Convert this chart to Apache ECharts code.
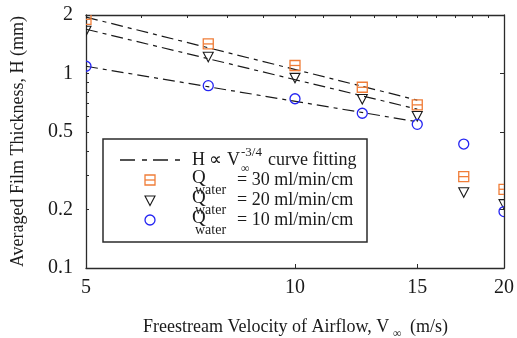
<!DOCTYPE html>
<html>
<head>
<meta charset="utf-8">
<script src="https://cdn.jsdelivr.net/npm/echarts@6/dist/echarts.min.js"></script>
<style>
  html, body { margin: 0; padding: 0; background: #fff; }
  #chart { width: 517px; height: 338px; }
</style>
</head>
<body>
<div id="chart"></div>
<script>
// Measured film thickness H (mm) against freestream velocity (m/s)
const velocity = [5, 7.5, 10, 12.5, 15, 17.5, 20];
const thickness30 = [1.90, 1.42, 1.10, 0.85, 0.69, 0.295, 0.254];
const thickness20 = [1.66, 1.22, 0.95, 0.74, 0.605, 0.245, 0.213];
const thickness10 = [1.09, 0.866, 0.742, 0.625, 0.548, 0.434, 0.195];

// Power-law fit lines (end points, straight on log-log axes)
const fitVelocity = [5, 15];
const fit30 = [1.95, 0.73];
const fit20 = [1.69, 0.656];
const fit10 = [1.09, 0.565];

// Axis ticks
const xTickLabels = [5, 10, 15, 20];
const xTopTicks = [5, 6, 7, 8, 9, 10, 11, 12, 13, 14, 15, 16, 17, 18, 19, 20];
const yTickLabels = [0.1, 0.2, 0.5, 1, 2];
const yLeftTicks = [0.1, 0.2, 0.3, 0.4, 0.5, 0.6, 0.7, 0.8, 0.9, 1, 2];

const ORANGE = '#F07D38';
const BLUE = '#2424F2';
const INK = '#1a1a1a';
const AXIS = '#2b2b2b';
const SERIF = '"Liberation Serif", "Times New Roman", serif';
const FIT_DASH = [12, 5, 4, 5];

function marker(kind, x, y) {
  if (kind === 'square') {
    return {
      type: 'group',
      children: [
        { type: 'rect', shape: { x: x - 5, y: y - 5, width: 10, height: 10 },
          style: { fill: 'none', stroke: ORANGE, lineWidth: 1.3 } },
        { type: 'line', shape: { x1: x - 5, y1: y, x2: x + 5, y2: y },
          style: { stroke: ORANGE, lineWidth: 1.3 } }
      ]
    };
  }
  if (kind === 'triangle') {
    return {
      type: 'polygon',
      shape: { points: [[x - 5, y - 4.5], [x + 5, y - 4.5], [x, y + 5]] },
      style: { fill: 'none', stroke: INK, lineWidth: 1.1 }
    };
  }
  return {
    type: 'circle',
    shape: { cx: x, cy: y, r: 5 },
    style: { fill: 'none', stroke: BLUE, lineWidth: 1.3 }
  };
}

function withZ(el, z) {
  el.z = z;
  if (el.children) el.children.forEach(c => withZ(c, z));
  return el;
}

function pointSeries(name, values, kind) {
  return {
    type: 'custom',
    name: name,
    clip: true,
    xAxisIndex: 0,
    yAxisIndex: 0,
    z: 3,
    data: velocity.map((v, i) => [v, values[i]]),
    encode: { x: 0, y: 1 },
    renderItem: function (params, api) {
      const p = api.coord([api.value(0), api.value(1)]);
      return marker(kind, p[0], p[1]);
    }
  };
}

function fitSeries(values) {
  return {
    type: 'line',
    xAxisIndex: 0,
    yAxisIndex: 0,
    data: fitVelocity.map((v, i) => [v, values[i]]),
    showSymbol: false,
    symbol: 'none',
    silent: true,
    z: 2,
    lineStyle: { color: INK, width: 1.2, type: FIT_DASH }
  };
}

function text(str, x, y, size, align, extra) {
  return Object.assign({
    type: 'text',
    x: x,
    y: y,
    style: {
      text: str,
      font: size + 'px ' + SERIF,
      fill: INK,
      align: align || 'left',
      verticalAlign: 'middle',
      textAlign: align || 'left',
      textVerticalAlign: 'middle'
    }
  }, extra || {});
}

const fmt = v => String(+(+v).toPrecision(6));

const legendRows = [
  { kind: 'square', label: '= 30 ml/min/cm', y: 180 },
  { kind: 'triangle', label: '= 20 ml/min/cm', y: 200.5 },
  { kind: 'circle', label: '= 10 ml/min/cm', y: 220 }
];

const graphics = [
  // legend frame
  { type: 'rect', shape: { x: 103, y: 139, width: 264, height: 103 },
    style: { fill: '#fff', stroke: AXIS, lineWidth: 1.5 }, z: 10 },
  { type: 'line', shape: { x1: 120, y1: 160, x2: 181, y2: 160 },
    style: { stroke: INK, lineWidth: 1.3, lineDash: [15, 7, 5, 6] }, z: 11 },
  text('H \u221D V', 192, 160, 18, 'left', { z: 11 }),
  text('-3/4', 241, 153, 13, 'left', { z: 11 }),
  text('\u221E', 241, 169, 12, 'left', { z: 11 }),
  text('curve fitting', 268, 160, 18, 'left', { z: 11 })
];
legendRows.forEach(r => {
  graphics.push(withZ(marker(r.kind, 150, r.y), 11));
  graphics.push(text('Q', 192, r.y - 2, 19, 'left', { z: 11 }));
  graphics.push(text('water', 195, r.y + 10, 14, 'left', { z: 11 }));
  graphics.push(text(r.label, 237, r.y, 18, 'left', { z: 11 }));
});
// axis titles
graphics.push(text('Averaged Film Thickness, H (mm)', 18, 141.5, 18, 'center', { rotation: Math.PI / 2 }));
graphics.push(text('Freestream Velocity of Airflow, V', 143, 327, 18, 'left'));
graphics.push(text('\u221E', 393, 334, 12, 'left'));
graphics.push(text('(m/s)', 410, 327, 18, 'left'));

const baseAxisLine = { show: true, onZero: false, lineStyle: { color: AXIS, width: 1.3 } };

const option = {
  animation: false,
  backgroundColor: '#fff',
  grid: { left: 86, right: 11, top: 15, bottom: 70, containLabel: false },
  xAxis: [
    {
      type: 'log', logBase: 10, min: 5, max: 20, position: 'bottom',
      axisLine: baseAxisLine,
      splitLine: { show: false },
      minorTick: { show: false },
      axisTick: { show: true, inside: true, length: 4, customValues: xTickLabels,
        lineStyle: { color: AXIS, width: 1 } },
      axisLabel: { show: true, customValues: xTickLabels, margin: 10, formatter: fmt,
        fontFamily: SERIF, fontSize: 20, color: INK }
    },
    {
      type: 'log', logBase: 10, min: 5, max: 20, position: 'top',
      axisLine: baseAxisLine,
      splitLine: { show: false },
      axisTick: { show: true, inside: true, length: 3, customValues: xTopTicks,
        lineStyle: { color: AXIS, width: 1 } },
      axisLabel: { show: false }
    }
  ],
  yAxis: [
    {
      type: 'log', logBase: 10, min: 0.1, max: 2, position: 'left',
      axisLine: baseAxisLine,
      splitLine: { show: false },
      axisTick: { show: true, inside: true, length: 3, customValues: yLeftTicks,
        lineStyle: { color: AXIS, width: 1 } },
      axisLabel: { show: true, customValues: yTickLabels, margin: 13, formatter: fmt,
        fontFamily: SERIF, fontSize: 20, color: INK }
    },
    {
      type: 'log', logBase: 10, min: 0.1, max: 2, position: 'right',
      axisLine: baseAxisLine,
      splitLine: { show: false },
      axisTick: { show: true, inside: true, length: 4, customValues: yTickLabels,
        lineStyle: { color: AXIS, width: 1 } },
      axisLabel: { show: false }
    }
  ],
  series: [
    fitSeries(fit30),
    fitSeries(fit20),
    fitSeries(fit10),
    pointSeries('Q = 30 ml/min/cm', thickness30, 'square'),
    pointSeries('Q = 20 ml/min/cm', thickness20, 'triangle'),
    pointSeries('Q = 10 ml/min/cm', thickness10, 'circle')
  ],
  graphic: graphics
};

const chart = echarts.init(document.getElementById('chart'), null, { renderer: 'canvas' });
chart.setOption(option);
</script>
</body>
</html>
